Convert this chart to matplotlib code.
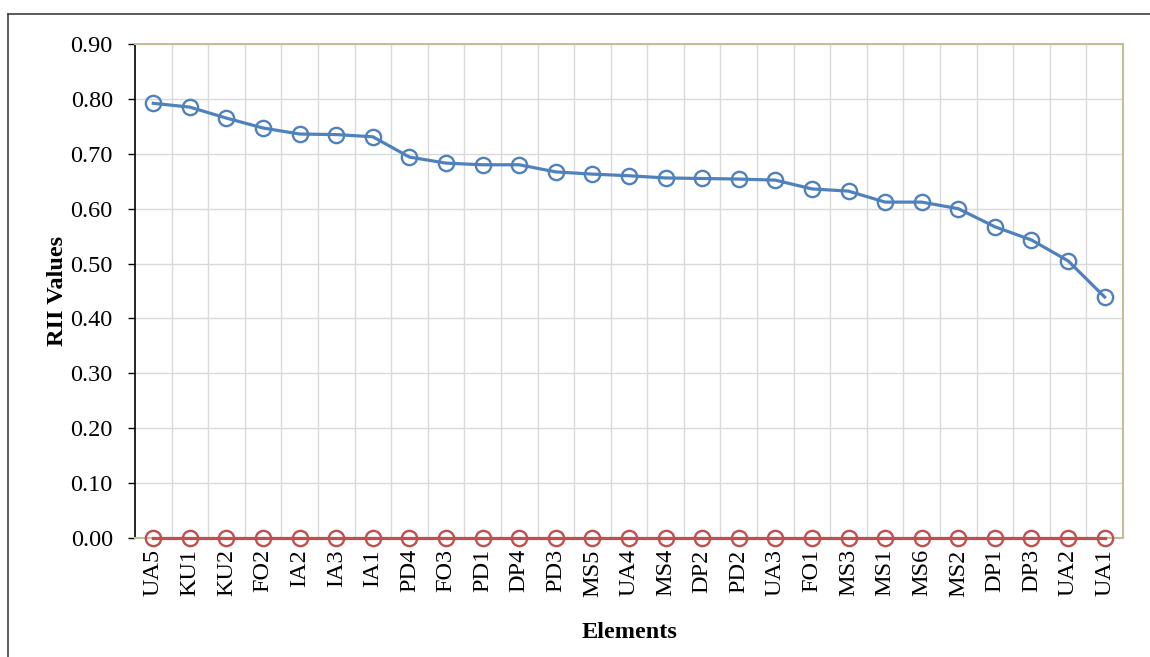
import matplotlib.pyplot as plt
from matplotlib.lines import Line2D

elements = ["UA5", "KU1", "KU2", "FO2", "IA2", "IA3", "IA1", "PD4", "FO3", "PD1",
            "DP4", "PD3", "MS5", "UA4", "MS4", "DP2", "PD2", "UA3", "FO1", "MS3",
            "MS1", "MS6", "MS2", "DP1", "DP3", "UA2", "UA1"]
rii = [0.792, 0.785, 0.765, 0.747, 0.736, 0.735, 0.731, 0.694, 0.683, 0.680,
       0.680, 0.667, 0.663, 0.660, 0.656, 0.655, 0.654, 0.652, 0.636, 0.632,
       0.612, 0.612, 0.600, 0.567, 0.543, 0.505, 0.439]
baseline = [0.0] * len(elements)
yticks = [0.0, 0.1, 0.2, 0.3, 0.4, 0.5, 0.6, 0.7, 0.8, 0.9]

plt.rcParams['font.family'] = ['Liberation Serif', 'DejaVu Serif']

fig = plt.figure(figsize=(11.5, 6.57), dpi=100)
ax = fig.add_axes([0.1174, 0.1811, 0.8591, 0.7519])

x = list(range(len(elements)))
ax.plot(x, rii, color='#4F81BD', lw=2.3, marker='o', ms=11, mfc='none', mew=1.7, zorder=3, clip_on=False)
ax.plot(x, baseline, color='#C0504D', lw=2.3, marker='o', ms=11, mfc='none', mew=1.7, zorder=3, clip_on=False)

ax.set_xlim(-0.5, len(elements) - 0.5)
ax.set_ylim(0, 0.9)
ax.set_yticks(yticks)
ax.set_yticklabels([f"{v:.2f}" for v in yticks], fontsize=17.5)
ax.set_xticks(x)
ax.set_xticklabels(elements, rotation=90, fontsize=17.5)
ax.set_xticks([i + 0.5 for i in x[:-1]], minor=True)

ax.tick_params(axis='x', which='both', length=0, pad=8)
ax.tick_params(axis='y', length=5, width=1, direction='out', pad=11)

ax.grid(axis='y', which='major', color='#D9D9D9', lw=1)
ax.grid(axis='x', which='minor', color='#D9D9D9', lw=1)
ax.set_axisbelow(True)

for side in ['top', 'right', 'bottom']:
    ax.spines[side].set_color('#C4BD97')
    ax.spines[side].set_linewidth(1.5)
ax.spines['left'].set_color('black')
ax.spines['left'].set_linewidth(1.2)

ax.set_ylabel('RII Values', fontsize=17.5, fontweight='bold', labelpad=1.5)
ax.set_xlabel('Elements', fontsize=17.5, fontweight='bold', labelpad=18)

# outer chart border
fig.add_artist(Line2D([8 / 1150, 1.0], [1 - 14 / 657, 1 - 14 / 657], color='#404040', lw=1.2))
fig.add_artist(Line2D([8 / 1150, 8 / 1150], [0.0, 1 - 14 / 657], color='#404040', lw=1.2))

fig.savefig('out.png', dpi=100)
